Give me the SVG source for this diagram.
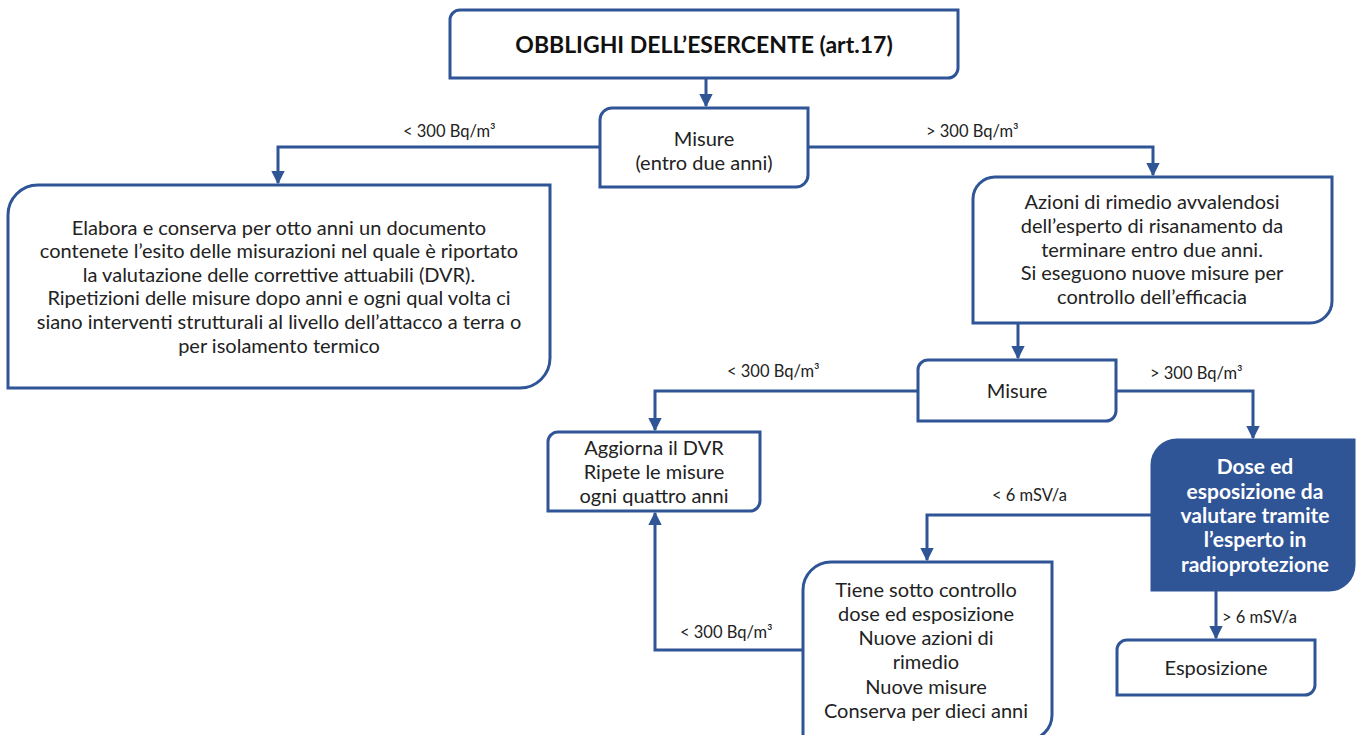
<svg xmlns="http://www.w3.org/2000/svg" width="1356" height="735" viewBox="0 0 1356 735">
<defs>
<marker id="arr" viewBox="0 0 10 10" refX="9" refY="5" markerWidth="4.5" markerHeight="4.5" orient="auto" markerUnits="strokeWidth">
<path d="M0,0 L10,5 L0,10 Z" fill="#2F5597"/>
</marker>
<style>
.box{fill:#fff;stroke:#2F5597;stroke-width:3}
.fill{fill:#2F5597;stroke:#2F5597;stroke-width:3}
.t{font-family:Lato,"Liberation Sans",sans-serif;font-size:20px;fill:#222;text-anchor:middle}
.w{font-family:Lato,"Liberation Sans",sans-serif;font-size:21px;font-weight:bold;fill:#fff;text-anchor:middle}
.h{font-family:Lato,"Liberation Sans",sans-serif;font-size:23px;font-weight:bold;fill:#111;text-anchor:middle}
.l{font-family:Lato,"Liberation Sans",sans-serif;font-size:16.5px;fill:#222}
.c{fill:none;stroke:#2F5597;stroke-width:3;marker-end:url(#arr)}
</style>
</defs>
<rect width="1356" height="735" fill="#fff"/>
<g id="connectors">
<path class="c" d="M706,78 V106"/>
<path class="c" d="M600,147 H278 V183"/>
<path class="c" d="M808,147 H1153 V175"/>
<path class="c" d="M1018,323 V358"/>
<path class="c" d="M918,391 H655 V430"/>
<path class="c" d="M1116,391 H1253 V438"/>
<path class="c" d="M1152,515 H927 V560"/>
<path class="c" d="M803,650 H655 V513"/>
<path class="c" d="M1216,590 V638"/>
<text class="l" x="403" y="137">&lt; 300 Bq/m³</text>
<text class="l" x="926" y="137">&gt; 300 Bq/m³</text>
<text class="l" x="727" y="377">&lt; 300 Bq/m³</text>
<text class="l" x="1150" y="379">&gt; 300 Bq/m³</text>
<text class="l" x="992" y="501">&lt; 6 mSV/a</text>
<text class="l" x="680" y="638">&lt; 300 Bq/m³</text>
<text class="l" x="1222" y="623">&gt; 6 mSV/a</text>
</g>
<g id="n-title">
<path class="box" d="M460,10 H958 V68 A10,10 0 0 1 948,78 H450 V20 A10,10 0 0 1 460,10 Z"/>
<text class="h" x="704" y="53">OBBLIGHI DELL’ESERCENTE (art.17)</text>
</g>
<g id="n-misure1">
<path class="box" d="M612,108 H808 V175 A12,12 0 0 1 796,187 H600 V120 A12,12 0 0 1 612,108 Z"/>
<text class="t" x="704" y="146">Misure</text>
<text class="t" x="704" y="170">(entro due anni)</text>
</g>
<g id="n-left">
<path class="box" d="M38,185 H550 V358 A30,30 0 0 1 520,388 H8 V215 A30,30 0 0 1 38,185 Z"/>
<text class="t" x="279" y="235">Elabora e conserva per otto anni un documento</text>
<text class="t" x="279" y="258">contenete l’esito delle misurazioni nel quale è riportato</text>
<text class="t" x="279" y="282">la valutazione delle correttive attuabili (DVR).</text>
<text class="t" x="279" y="305">Ripetizioni delle misure dopo anni e ogni qual volta ci</text>
<text class="t" x="279" y="329">siano interventi strutturali al livello dell’attacco a terra o</text>
<text class="t" x="279" y="353">per isolamento termico</text>
</g>
<g id="n-right">
<path class="box" d="M995,177 H1332 V301 A22,22 0 0 1 1310,323 H973 V199 A22,22 0 0 1 995,177 Z"/>
<text class="t" x="1152" y="209">Azioni di rimedio avvalendosi</text>
<text class="t" x="1152" y="233">dell’esperto di risanamento da</text>
<text class="t" x="1152" y="257">terminare entro due anni.</text>
<text class="t" x="1152" y="280">Si eseguono nuove misure per</text>
<text class="t" x="1152" y="304">controllo dell’efficacia</text>
</g>
<g id="n-misure2">
<path class="box" d="M928,360 H1116 V411 A10,10 0 0 1 1106,421 H918 V370 A10,10 0 0 1 928,360 Z"/>
<text class="t" x="1017" y="398">Misure</text>
</g>
<g id="n-aggiorna">
<path class="box" d="M558,432 H760 V501 A10,10 0 0 1 750,511 H548 V442 A10,10 0 0 1 558,432 Z"/>
<text class="t" x="654" y="455">Aggiorna il DVR</text>
<text class="t" x="654" y="479">Ripete le misure</text>
<text class="t" x="654" y="503">ogni quattro anni</text>
</g>
<g id="n-dose">
<path class="fill" d="M1177,440 H1354 V565 A25,25 0 0 1 1329,590 H1152 V465 A25,25 0 0 1 1177,440 Z"/>
<text class="w" x="1255" y="474">Dose ed</text>
<text class="w" x="1255" y="499">esposizione da</text>
<text class="w" x="1255" y="523">valutare tramite</text>
<text class="w" x="1255" y="547">l’esperto in</text>
<text class="w" x="1255" y="572">radioprotezione</text>
</g>
<g id="n-tiene">
<path class="box" d="M831,562 H1052 V715 A25,25 0 0 1 1027,740 H803 V590 A28,28 0 0 1 831,562 Z"/>
<text class="t" x="926" y="597">Tiene sotto controllo</text>
<text class="t" x="926" y="621">dose ed esposizione</text>
<text class="t" x="926" y="645">Nuove azioni di</text>
<text class="t" x="926" y="669">rimedio</text>
<text class="t" x="926" y="694">Nuove misure</text>
<text class="t" x="926" y="718">Conserva per dieci anni</text>
</g>
<g id="n-esposizione">
<path class="box" d="M1127,640 H1315 V685 A10,10 0 0 1 1305,695 H1117 V650 A10,10 0 0 1 1127,640 Z"/>
<text class="t" x="1216" y="675">Esposizione</text>
</g>
</svg>
